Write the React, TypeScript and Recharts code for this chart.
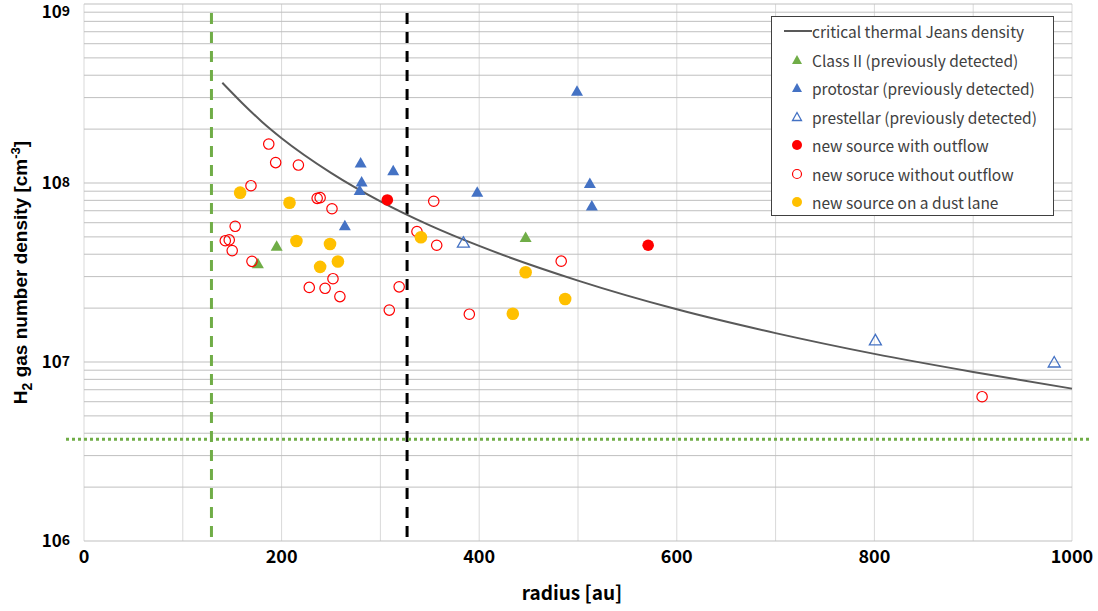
// 半径と H2 ガス数密度の関係を、臨界ジーンズ密度の曲線と各天体の散布点で描く。
import { CartesianGrid, ComposedChart, Line, ReferenceLine, Scatter, XAxis, YAxis } from "recharts";

const radiusTicks = [0, 100, 200, 300, 400, 500, 600, 700, 800, 900, 1000];
const densityTicks = [
  1e6, 2e6, 3e6, 4e6, 5e6, 6e6, 7e6, 8e6, 9e6,
  1e7, 2e7, 3e7, 4e7, 5e7, 6e7, 7e7, 8e7, 9e7,
  1e8, 2e8, 3e8, 4e8, 5e8, 6e8, 7e8, 8e8, 9e8, 1e9,
];

// critical thermal Jeans density
const jeansRadius = [140, 160, 180, 200, 250, 300, 350, 400, 500, 600, 700, 800, 900, 1000];
const jeansDensity = [3.63e8, 2.8e8, 2.2e8, 1.78e8, 1.14e8, 7.9e7, 5.8e7, 4.45e7, 2.85e7, 1.97e7, 1.45e7, 1.11e7, 8.8e6, 7.1e6];

// [radius au, density cm^-3]
const classII = [[195, 4.46e7], [176, 3.56e7], [447, 4.99e7]];
const protostar = [
  [280, 1.3e8], [313, 1.18e8], [281, 1.02e8], [279, 9.14e7], [264, 5.8e7],
  [398, 8.94e7], [499, 3.28e8], [512, 1.0e8], [514, 7.48e7],
];
const prestellar = [[384, 4.67e7], [801, 1.33e7], [982, 1.0e7]];
const withOutflow = [[307, 8.04e7], [571, 4.49e7]];
const withoutOutflow = [
  [187, 1.65e8], [194, 1.3e8], [217, 1.26e8], [169, 9.66e7], [236, 8.21e7],
  [239, 8.28e7], [251, 7.18e7], [153, 5.73e7], [143, 4.76e7], [147, 4.81e7],
  [150, 4.19e7], [170, 3.65e7], [252, 2.92e7], [228, 2.61e7], [244, 2.58e7],
  [259, 2.32e7], [319, 2.63e7], [309, 1.95e7], [337, 5.36e7], [354, 7.91e7],
  [357, 4.49e7], [390, 1.85e7], [483, 3.66e7], [909, 6.4e6],
];
const dustLane = [
  [158, 8.83e7], [208, 7.76e7], [215, 4.74e7], [249, 4.56e7], [257, 3.64e7],
  [239, 3.4e7], [341, 4.98e7], [447, 3.17e7], [487, 2.25e7], [434, 1.86e7],
];

const diskRadius = 129;
const sinkRadius = 327;
const densityFloor = 3.7e6;

const BLUE = "#4472c4";
const GREEN = "#70ad47";
const RED = "#ff0000";
const YELLOW = "#ffc000";
const FONT = "'Noto Sans CJK JP', 'Noto Sans', sans-serif";

const toPoints = (pairs: number[][]) => pairs.map(([r, n]) => ({ r, n }));
const jeansData = jeansRadius.map((r, i) => ({ r, n: jeansDensity[i] }));

function Triangle({ cx, cy, fill, stroke }: any) {
  return (
    <polygon
      points={`${cx},${cy - 5.5} ${cx + 6},${cy + 5} ${cx - 6},${cy + 5}`}
      fill={fill}
      stroke={stroke ?? "none"}
      strokeWidth={1.3}
    />
  );
}

function Dot({ cx, cy, r, fill, stroke }: any) {
  return <circle cx={cx} cy={cy} r={r} fill={fill} stroke={stroke ?? "none"} strokeWidth={1.2} />;
}

function DensityTick({ x, y, payload }: any) {
  const exp = Math.round(Math.log10(payload.value));
  if (Math.abs(payload.value - 10 ** exp) > 1) return <g />;
  const ty = Math.max(y, 12);
  return (
    <text x={x - 6} y={ty + 6} textAnchor="end" fontFamily={FONT} fontWeight={700} fontSize={17} fill="#000">
      <tspan>10</tspan>
      <tspan dy={-2.5} fontSize={14}>{exp}</tspan>
    </text>
  );
}

function RadiusTick({ x, y, payload }: any) {
  if (payload.value % 200 !== 0) return <g />;
  return (
    <text x={x} y={y + 14} textAnchor="middle" fontFamily={FONT} fontWeight={700} fontSize={18} fill="#000">
      {payload.value}
    </text>
  );
}

const vDash = (color: string) => (props: any) => (
  <line x1={props.x1} x2={props.x2} y1={props.y1 - 4} y2={props.y2 + 9} stroke={color} strokeWidth={3} strokeDasharray="11 8" />
);

const hDot = (props: any) => (
  <line x1={props.x1 - 18} x2={props.x2 + 18} y1={props.y1} y2={props.y2} stroke={GREEN} strokeWidth={3} strokeDasharray="3 3" />
);

const legendItems = [
  { label: "critical thermal Jeans density", kind: "line" },
  { label: "Class II (previously detected)", kind: "tri", fill: GREEN },
  { label: "protostar (previously detected)", kind: "tri", fill: BLUE },
  { label: "prestellar (previously detected)", kind: "otri", stroke: BLUE },
  { label: "new source with outflow", kind: "dot", fill: RED },
  { label: "new soruce without outflow", kind: "odot", stroke: RED },
  { label: "new source on a dust lane", kind: "dot", fill: YELLOW },
];

function LegendMarker({ item }: { item: any }) {
  if (item.kind === "line") return <line x1={12} x2={40} y1={14} y2={14} stroke="#595959" strokeWidth={2} />;
  if (item.kind === "tri") return <polygon points="25,9 30,18 20,18" fill={item.fill} />;
  if (item.kind === "otri") return <polygon points="25,9.5 29.5,17.5 20.5,17.5" fill="none" stroke={item.stroke} strokeWidth={1.3} />;
  if (item.kind === "dot") return <circle cx={25} cy={14} r={5} fill={item.fill} />;
  return <circle cx={25} cy={14} r={4.5} fill="none" stroke={item.stroke} strokeWidth={1.2} />;
}

export default function App() {
  return (
    <div style={{ position: "absolute", left: 0, top: 0, width: 1098, height: 611, background: "#fff" }}>
      <ComposedChart width={1098} height={611} margin={{ top: 4, right: 26, bottom: 10, left: 0 }}>
        <CartesianGrid horizontal={false} stroke="#d9d9d9" />
        <CartesianGrid vertical={false} stroke="#bfbfbf" />
        <XAxis
          dataKey="r"
          type="number"
          domain={[0, 1000]}
          ticks={radiusTicks}
          interval={0}
          axisLine={false}
          tickLine={false}
          height={60}
          tick={<RadiusTick />}
          label={(p: any) => (
            <text
              x={p.viewBox.x + p.viewBox.width / 2 - 6}
              y={p.viewBox.y + 59}
              textAnchor="middle"
              fontFamily={FONT}
              fontWeight={700}
              fontSize={19}
              fill="#000"
            >
              radius [au]
            </text>
          )}
        />
        <YAxis
          dataKey="n"
          type="number"
          scale="log"
          domain={[1e6, 1e9]}
          ticks={densityTicks}
          interval={0}
          allowDataOverflow
          axisLine={false}
          tickLine={false}
          width={84}
          tick={<DensityTick />}
          label={(p: any) => (
            <text
              transform={`translate(27, ${p.viewBox.y + p.viewBox.height / 2}) rotate(-90)`}
              textAnchor="middle"
              fontFamily="'Liberation Sans', Arial, sans-serif"
              fontWeight={700}
              fontSize={19}
              fill="#000"
            >
              H<tspan dy={5} fontSize={14}>2</tspan>
              <tspan dy={-5}> gas number density [cm</tspan>
              <tspan dy={-7} fontSize={13}>-3</tspan>
              <tspan dy={7}>]</tspan>
            </text>
          )}
        />
        <ReferenceLine x={diskRadius} shape={vDash(GREEN)} />
        <ReferenceLine x={sinkRadius} shape={vDash("#000")} />
        <ReferenceLine y={densityFloor} shape={hDot} />
        <Line
          data={jeansData}
          dataKey="n"
          type="monotone"
          stroke="#595959"
          strokeWidth={2}
          dot={false}
          activeDot={false}
          isAnimationActive={false}
        />
        <Scatter data={toPoints(classII)} dataKey="n" shape={(p: any) => <Triangle {...p} fill={GREEN} />} isAnimationActive={false} />
        <Scatter data={toPoints(protostar)} dataKey="n" shape={(p: any) => <Triangle {...p} fill={BLUE} />} isAnimationActive={false} />
        <Scatter data={toPoints(prestellar)} dataKey="n" shape={(p: any) => <Triangle {...p} fill="none" stroke={BLUE} />} isAnimationActive={false} />
        <Scatter data={toPoints(withoutOutflow)} dataKey="n" shape={(p: any) => <Dot {...p} r={5.2} fill="none" stroke={RED} />} isAnimationActive={false} />
        <Scatter data={toPoints(withOutflow)} dataKey="n" shape={(p: any) => <Dot {...p} r={5.8} fill={RED} />} isAnimationActive={false} />
        <Scatter data={toPoints(dustLane)} dataKey="n" shape={(p: any) => <Dot {...p} r={6.3} fill={YELLOW} />} isAnimationActive={false} />
      </ComposedChart>
      <div
        style={{
          position: "absolute",
          left: 771,
          top: 16,
          width: 283,
          height: 200,
          boxSizing: "border-box",
          border: "1px solid #404040",
          background: "#fff",
          fontFamily: FONT,
          fontSize: 15.5,
          color: "#404040",
        }}
      >
        {legendItems.map((item) => (
          <div key={item.label} style={{ position: "relative", height: 28.5 }}>
            <svg width={42} height={28} style={{ position: "absolute", left: 0, top: 0 }}>
              <LegendMarker item={item} />
            </svg>
            <span style={{ position: "absolute", left: 40, top: 0, lineHeight: "28px", whiteSpace: "nowrap" }}>{item.label}</span>
          </div>
        ))}
      </div>
    </div>
  );
}
